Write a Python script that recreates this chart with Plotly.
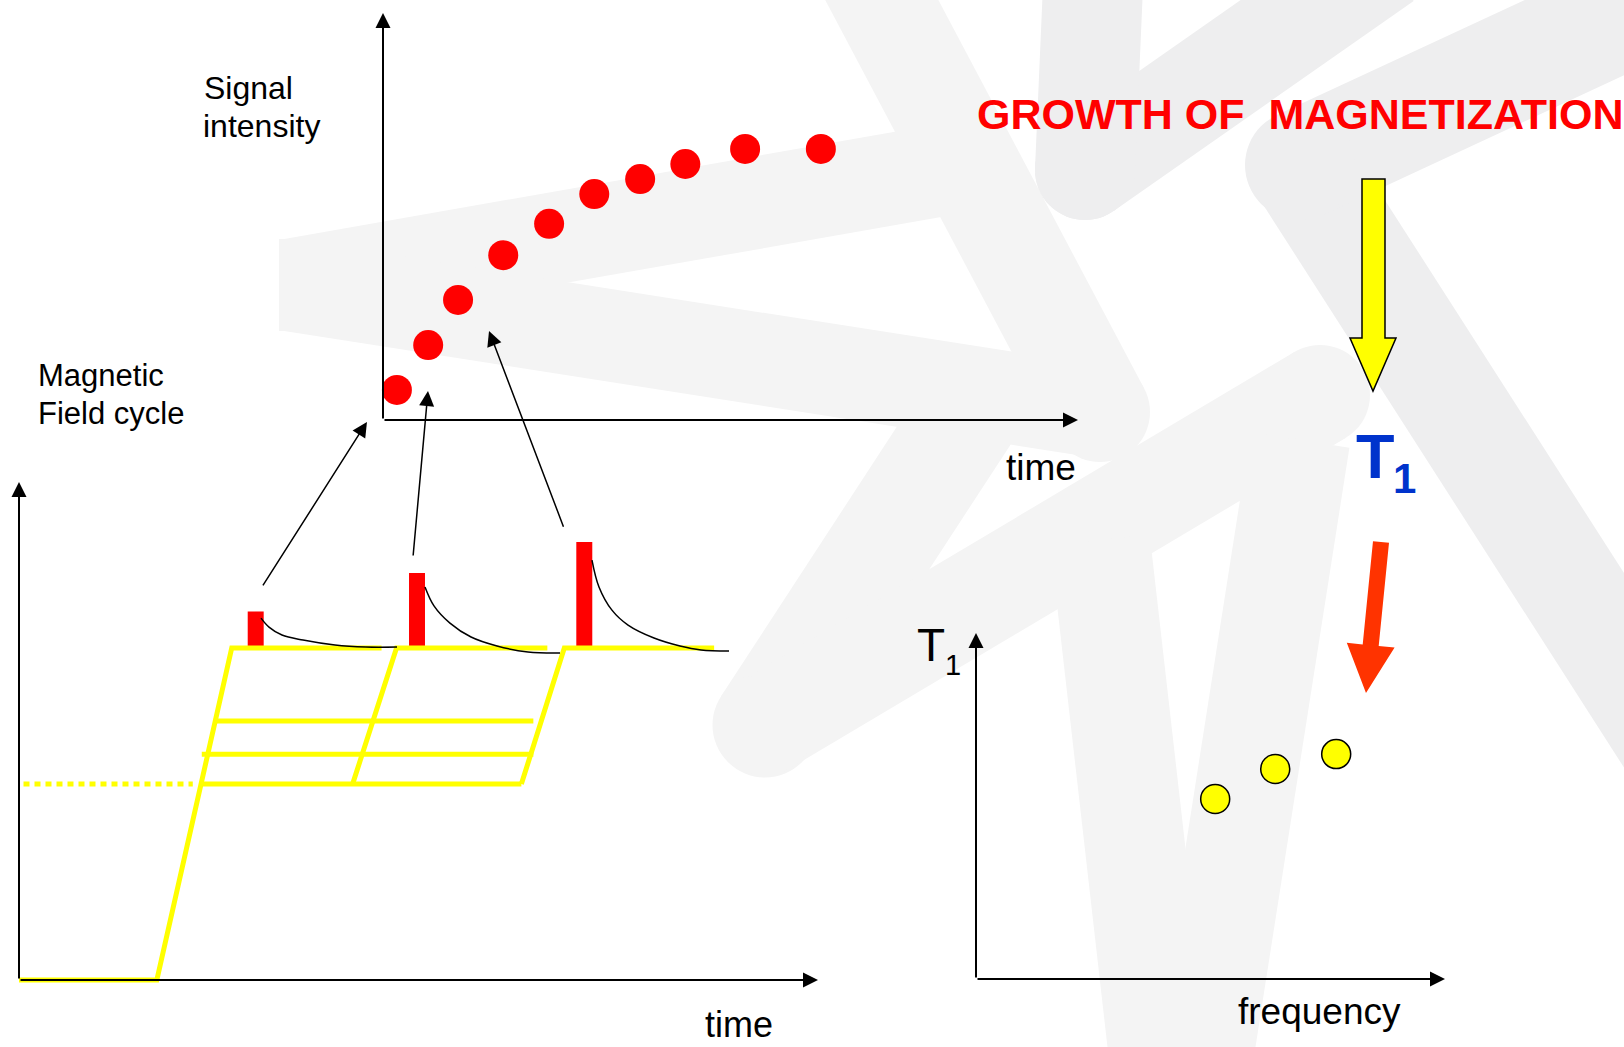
import plotly.graph_objects as go

W, H = 1624, 1047
FONT = "Liberation Sans, Arial, sans-serif"

# ---------------- data ----------------
# Magnetic field cycle (time 0..8 a.u., field 0..1.5 a.u.)
cycle1_t = [0.0, 1.38, 2.13, 3.63]
cycle1_b = [0.0, 0.0, 1.0, 1.0]
cycle2_t = [3.34, 3.78, 5.29]
cycle2_b = [0.59, 1.0, 1.0]
cycle3_t = [5.03, 5.46, 6.96]
cycle3_b = [0.59, 1.0, 1.0]
relax_levels = [0.78, 0.68, 0.59]
relax_start = [1.95, 1.83, 1.83]
relax_end = [5.15, 5.15, 5.03]
dotted_t = [0.045, 1.74]
dotted_b = [0.59, 0.59]

pulse_t = [2.37, 3.985, 5.66]
pulse_h = [0.11, 0.226, 0.319]
detect_level = 1.0

fid1_t = [2.423, 2.503, 2.633, 2.844, 3.164, 3.474, 3.785]
fid1_b = [1.090, 1.063, 1.039, 1.024, 1.009, 1.003, 1.003]
fid2_t = [4.065, 4.155, 4.315, 4.526, 4.786, 5.096, 5.417]
fid2_b = [1.184, 1.127, 1.075, 1.033, 1.006, 0.988, 0.985]
fid3_t = [5.737, 5.807, 5.937, 6.098, 6.358, 6.618, 6.829, 7.109]
fid3_b = [1.265, 1.184, 1.114, 1.069, 1.030, 1.006, 0.994, 0.991]

# connector arrows (field-cycle coordinates): tail at pulse, head toward signal plot
conn_tail_t = [2.433, 3.945, 5.457]
conn_tail_b = [1.184, 1.274, 1.361]
conn_head_t = [3.484, 4.095, 4.706]
conn_head_b = [1.681, 1.774, 1.955]

# Signal intensity growth (time 0..10, signal 0..10)
sig_t = [0.20, 0.65, 1.08, 1.73, 2.39, 3.04, 3.70, 4.35, 5.21, 6.30]
sig_v = [0.74, 1.84, 2.95, 4.05, 4.82, 5.55, 5.92, 6.29, 6.66, 6.66]

# T1 dispersion (frequency 0..10, T1 0..10)
freq = [5.10, 6.38, 7.68]
t1 = [5.20, 6.07, 6.50]

# ---------------- layout geometry ----------------
def xdom(p0, k, r):
    return [(p0 + r[0] * k) / W, (p0 + r[1] * k) / W]

def ydom(p0, k, r):
    return [1 - (p0 - r[0] * k) / H, 1 - (p0 - r[1] * k) / H]

rx1, ry1 = [-0.1, 8.2], [-0.05, 1.55]
rx2, ry2 = [-0.3, 10.2], [-0.2, 10.1]
rx3, ry3 = [-0.2, 10.2], [-0.2, 10.2]

ax_common = dict(visible=False, fixedrange=True)

fig = go.Figure()

# ---------------- field cycle traces ----------------
YEL = "#ffff00"
for tt, bb in [(cycle1_t, cycle1_b), (cycle2_t, cycle2_b), (cycle3_t, cycle3_b)]:
    fig.add_trace(go.Scatter(x=tt, y=bb, mode="lines", line=dict(color=YEL, width=5),
                             xaxis="x", yaxis="y", hoverinfo="skip", showlegend=False))
for lv, s, e in zip(relax_levels, relax_start, relax_end):
    fig.add_trace(go.Scatter(x=[s, e], y=[lv, lv], mode="lines", line=dict(color=YEL, width=5),
                             xaxis="x", yaxis="y", hoverinfo="skip", showlegend=False))
fig.add_trace(go.Scatter(x=dotted_t, y=dotted_b, mode="lines",
                         line=dict(color=YEL, width=5, dash="6px,5px"),
                         xaxis="x", yaxis="y", hoverinfo="skip", showlegend=False))

fig.add_trace(go.Bar(x=pulse_t, y=pulse_h, base=detect_level, width=0.16,
                     marker=dict(color="#ff0000", line=dict(width=0)),
                     xaxis="x", yaxis="y", hoverinfo="skip", showlegend=False))

for tt, bb in [(fid1_t, fid1_b), (fid2_t, fid2_b), (fid3_t, fid3_b)]:
    fig.add_trace(go.Scatter(x=tt, y=bb, mode="lines", line=dict(color="black", width=1.5, shape="spline"),
                             xaxis="x", yaxis="y", hoverinfo="skip", showlegend=False))

# ---------------- signal dots ----------------
fig.add_trace(go.Scatter(x=sig_t, y=sig_v, mode="markers",
                         marker=dict(color="#ff0000", size=30, line=dict(width=0)),
                         xaxis="x2", yaxis="y2", cliponaxis=False, hoverinfo="skip", showlegend=False))

# ---------------- T1 dots ----------------
fig.add_trace(go.Scatter(x=freq, y=t1, mode="markers",
                         marker=dict(color=YEL, size=29, line=dict(width=1.5, color="black")),
                         xaxis="x3", yaxis="y3", cliponaxis=False, hoverinfo="skip", showlegend=False))

# ---------------- annotations ----------------
ann = []

def axis_arrow(xr, yr, x, y, ax, ay):
    return dict(x=x, y=y, ax=ax, ay=ay, xref=xr, yref=yr, axref=xr, ayref=yr, text="",
                showarrow=True, arrowhead=2, arrowsize=1.5, arrowwidth=2, arrowcolor="black",
                standoff=0, startstandoff=0)

ann += [axis_arrow("x", "y", 8, 0, 0, 0), axis_arrow("x", "y", 0, 1.5, 0, 0)]
ann += [axis_arrow("x2", "y2", 10, 0, 0, 0), axis_arrow("x2", "y2", 0, 10, 0, 0)]
ann += [axis_arrow("x3", "y3", 10, 0, 0, 0), axis_arrow("x3", "y3", 0, 10, 0, 0)]

for ht, hb, tt, tb in zip(conn_head_t, conn_head_b, conn_tail_t, conn_tail_b):
    ann.append(dict(x=ht, y=hb, ax=tt, ay=tb, xref="x", yref="y", axref="x", ayref="y", text="",
                    showarrow=True, arrowhead=2, arrowsize=2, arrowwidth=1.5, arrowcolor="black",
                    standoff=0, startstandoff=0))

def label(text, px, py, size, color="black", bold=False, xanchor="left"):
    t = "<b>%s</b>" % text if bold else text
    return dict(text=t, x=px / W, y=1 - py / H, xref="paper", yref="paper", showarrow=False,
                xanchor=xanchor, yanchor="middle", font=dict(family=FONT, size=size, color=color))

ann += [
    label("Signal", 202, 88, 32),
    label("intensity", 201, 126, 32),
    label("Magnetic", 36, 375.5, 31),
    label("Field cycle", 36, 413.5, 31),
    label("time", 1041, 467, 37, xanchor="center"),
    label("time", 739, 1024, 36, xanchor="center"),
    label("frequency", 1319, 1011, 37, xanchor="center"),
    label("GROWTH OF \u00a0MAGNETIZATION", 975, 114, 43, color="#ff0000", bold=True),
    label("T", 1354, 456, 63, color="#0033cc", bold=True),
    label("1", 1391, 478, 42, color="#0033cc", bold=True),
    label("T", 915, 645, 46),
    label("1", 943, 665, 29),
]

# ---------------- decorative background logo ----------------
def P(x, y):
    return "%.5f,%.5f" % (x / W, 1 - y / H)

shapes = []

def band(x1, y1, x2, y2, w, col, cap1=True, cap2=True):
    dx, dy = x2 - x1, y2 - y1
    L = (dx * dx + dy * dy) ** 0.5
    nx, ny = -dy / L * w / 2, dx / L * w / 2
    path = "M%s L%s L%s L%s Z" % (P(x1 + nx, y1 + ny), P(x2 + nx, y2 + ny),
                                  P(x2 - nx, y2 - ny), P(x1 - nx, y1 - ny))
    out = [dict(type="path", path=path, xref="paper", yref="paper", fillcolor=col,
                line=dict(width=0), layer="below")]
    for (cx, cy), cap in [((x1, y1), cap1), ((x2, y2), cap2)]:
        if not cap:
            continue
        r = w / 2
        out.append(dict(type="circle", xref="paper", yref="paper",
                        x0=(cx - r) / W, x1=(cx + r) / W, y0=1 - (cy + r) / H, y1=1 - (cy - r) / H,
                        fillcolor=col, line=dict(width=0), layer="below"))
    return out

LT, DK = "#f4f4f4", "#eeeeef"
logo = [
    (288, 285, 1000, 160, 92, LT, False, False),
    (288, 285, 1100, 412, 92, LT, False, True),
    (990, 380, 765, 725, 105, LT, False, True),
    (765, 725, 1320, 395, 100, LT, True, True),
    (1100, 540, 1165, 1110, 100, LT, False, False),
    (1300, 440, 1195, 1110, 100, LT, False, False),
    (850, -60, 1100, 412, 100, LT, False, True),
    (1300, 165, 1720, 820, 105, DK, True, False),
    (1300, 165, 1720, -30, 110, DK, True, False),
    (1085, 170, 1385, -40, 100, DK, True, False),
    (1085, 170, 1095, -60, 100, DK, True, False),
]
for b in logo:
    shapes += band(*b)
# straight left end of the left wedge
shapes.append(dict(type="path", xref="paper", yref="paper", layer="below", fillcolor=LT,
                   line=dict(width=0),
                   path="M%s L%s L%s L%s Z" % (P(279, 239), P(390, 239), P(390, 331), P(279, 331))))

# yellow block arrow
ypts = [(1362, 179), (1385, 179), (1385, 338), (1396, 338), (1373, 391), (1350, 338), (1362, 338)]
shapes.append(dict(type="path", xref="paper", yref="paper",
                   path="M" + " L".join(P(x, y) for x, y in ypts) + " Z",
                   fillcolor=YEL, line=dict(color="black", width=1.5)))
# red arrow
rpts = [(1373, 541.2), (1389, 542.8), (1378.7, 646), (1394.6, 647.6), (1366, 693), (1346.8, 642.8), (1362.7, 644.4)]
shapes.append(dict(type="path", xref="paper", yref="paper",
                   path="M" + " L".join(P(x, y) for x, y in rpts) + " Z",
                   fillcolor="#ff3300", line=dict(width=0)))

fig.update_layout(
    width=W, height=H, margin=dict(l=0, r=0, t=0, b=0, pad=0),
    paper_bgcolor="white", plot_bgcolor="rgba(0,0,0,0)", showlegend=False,
    xaxis=dict(domain=xdom(19, 99.875, rx1), range=rx1, anchor="y", **ax_common),
    yaxis=dict(domain=ydom(980, 332, ry1), range=ry1, anchor="x", **ax_common),
    xaxis2=dict(domain=xdom(383, 69.5, rx2), range=rx2, anchor="y2", **ax_common),
    yaxis2=dict(domain=ydom(420, 40.7, ry2), range=ry2, anchor="x2", **ax_common),
    xaxis3=dict(domain=xdom(976, 46.9, rx3), range=rx3, anchor="y3", **ax_common),
    yaxis3=dict(domain=ydom(979, 34.6, ry3), range=ry3, anchor="x3", **ax_common),
    annotations=ann, shapes=shapes,
)

fig.write_html("out.html", config={"displayModeBar": False},
               post_script="document.body.style.margin='0';document.body.style.overflow='hidden';")
